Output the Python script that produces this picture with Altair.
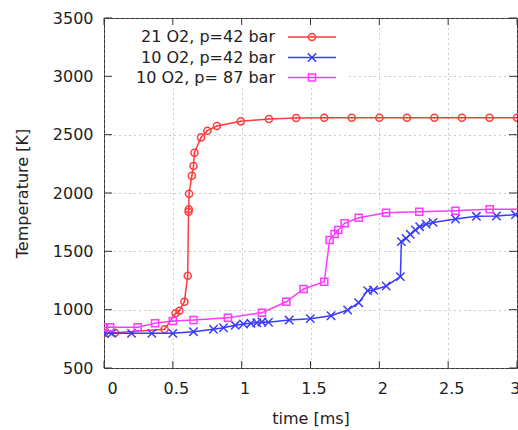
import altair as alt
import pandas as pd

# ---------------- data ----------------
red_t = [0.0, 0.08, 0.44, 0.52, 0.548, 0.584, 0.608, 0.614, 0.616, 0.618, 0.638,
         0.65, 0.657, 0.705, 0.751, 0.82, 0.994, 1.198, 1.396, 1.6, 1.8, 2.0,
         2.2, 2.4, 2.6, 2.8, 3.0]
red_T = [800, 802, 832, 969, 991, 1068, 1291, 1840, 1860, 1994, 2148,
         2231, 2345, 2477, 2534, 2574, 2614, 2635, 2643, 2645, 2645, 2645,
         2645, 2645, 2645, 2645, 2645]

blue_t = [0.0, 0.056, 0.2, 0.347, 0.5, 0.65, 0.795, 0.868, 0.953, 1.013, 1.067,
          1.11, 1.147, 1.195, 1.345, 1.498, 1.649, 1.77, 1.85, 1.915, 1.958,
          2.05, 2.153, 2.16, 2.194, 2.225, 2.262, 2.293, 2.34, 2.39, 2.553,
          2.705, 2.851, 2.989]
blue_T = [797, 797, 797, 797, 797, 811, 832, 845, 866, 877, 883,
          888, 895, 892, 911, 923, 948, 997, 1060, 1163, 1168,
          1203, 1283, 1583, 1611, 1646, 1683, 1711, 1733, 1748, 1777,
          1800, 1803, 1815]

mag_t = [0.0, 0.044, 0.245, 0.371, 0.5, 0.65, 0.9, 1.147, 1.324, 1.45, 1.6,
         1.639, 1.675, 1.702, 1.748, 1.85, 2.049, 2.29, 2.553, 2.802, 3.05]
mag_T = [849, 849, 849, 883, 903, 911, 931, 974, 1068, 1177, 1240,
         1597, 1648, 1683, 1740, 1788, 1831, 1840, 1848, 1860, 1862]

series_names = ["21 O2, p=42 bar", "10 O2, p=42 bar", "10 O2, p= 87 bar"]
series_colors = ["#ff3b3b", "#3b3bff", "#ff3bff"]

x_ticks = [0, 0.5, 1, 1.5, 2, 2.5, 3]
y_ticks = [500, 1000, 1500, 2000, 2500, 3000, 3500]

FONT = "DejaVu Sans"
FS = 16
W, H = 413, 350

xscale = alt.Scale(domain=[0, 3], nice=False, zero=False)
yscale = alt.Scale(domain=[500, 3500], nice=False, zero=False)

X_MARK = "M-1,-1L1,1M-1,1L1,-1"

x_axis = alt.Axis(values=x_ticks, format="~g", title="time [ms]", ticks=False,
                  domain=False, grid=True, gridDash=[1, 4], gridColor="#999999",
                  gridWidth=1, labelPadding=12, labelOffset=3, titlePadding=14)
y_axis = alt.Axis(values=y_ticks, format="d", title="Temperature [K]", ticks=False,
                  domain=False, grid=True, gridDash=[1, 4], gridColor="#999999",
                  gridWidth=1, labelPadding=11, titlePadding=22)

XE = alt.X("time:Q", scale=xscale, axis=x_axis)
YE = alt.Y("T:Q", scale=yscale, axis=y_axis)

# mask behind the key (gnuplot opaque key box)
mask = alt.Chart(pd.DataFrame({"a": [0]})).mark_rect(fill="white").encode(
    x=alt.value(1), x2=alt.value(243), y=alt.value(1), y2=alt.value(70)
)

# inward ticks on all four sides
xt = pd.DataFrame({"time": x_ticks})
yt = pd.DataFrame({"T": y_ticks})
tick_color = "#333333"
ticks = [
    alt.Chart(xt).mark_rule(color=tick_color, strokeWidth=1).encode(
        x=XE, y=alt.value(H - 7), y2=alt.value(H)),
    alt.Chart(xt).mark_rule(color=tick_color, strokeWidth=1).encode(
        x=XE, y=alt.value(0), y2=alt.value(7)),
    alt.Chart(yt).mark_rule(color=tick_color, strokeWidth=1).encode(
        y=YE, x=alt.value(0), x2=alt.value(8)),
    alt.Chart(yt).mark_rule(color=tick_color, strokeWidth=1).encode(
        y=YE, x=alt.value(W - 8), x2=alt.value(W)),
]

def series_layers(t, T, color, shape, size, dot):
    df = pd.DataFrame({"time": t, "T": T})
    layers = [
        alt.Chart(df).mark_line(color=color, strokeWidth=1.5, clip=True).encode(x=XE, y=YE),
        alt.Chart(df).mark_point(shape=shape, filled=False, size=size, color=color,
                                 strokeWidth=1.5, opacity=1, clip=True).encode(x=XE, y=YE),
    ]
    if dot:
        layers.append(alt.Chart(df).mark_point(shape="circle", filled=True, size=2.5,
                                               color=color, opacity=1, clip=True).encode(x=XE, y=YE))
    return layers

data_layers = []
data_layers += series_layers(red_t, red_T, series_colors[0], "circle", 50, True)
data_layers += series_layers(blue_t, blue_T, series_colors[1], X_MARK, 70, False)
data_layers += series_layers(mag_t, mag_T, series_colors[2], "square", 50, True)

# key
key_rows = [19, 39.5, 59.5]
shapes = [("circle", 50, True), (X_MARK, 70, False), ("square", 50, True)]
key_layers = []
for name, color, ry, (shp, sz, dot) in zip(series_names, series_colors, key_rows, shapes):
    ldf = pd.DataFrame({"label": [name]})
    key_layers.append(alt.Chart(ldf).mark_text(align="right", baseline="middle",
                                               font=FONT, fontSize=FS, color="#222222").encode(
        x=alt.value(171), y=alt.value(ry), text="label:N"))
    key_layers.append(alt.Chart(ldf).mark_rule(color=color, strokeWidth=1.5).encode(
        x=alt.value(184), x2=alt.value(232), y=alt.value(ry)))
    key_layers.append(alt.Chart(ldf).mark_point(shape=shp, filled=False, size=sz, color=color,
                                                strokeWidth=1.5, opacity=1).encode(
        x=alt.value(208), y=alt.value(ry)))
    if dot:
        key_layers.append(alt.Chart(ldf).mark_point(shape="circle", filled=True, size=2.5,
                                                    color=color, opacity=1).encode(
            x=alt.value(208), y=alt.value(ry)))

chart = alt.layer(mask, *ticks, *data_layers, *key_layers).properties(
    width=W, height=H,
    autosize=alt.AutoSizeParams(type="none"),
    padding={"left": 104, "top": 18, "right": 1, "bottom": 62},
    background="white",
).configure_view(
    stroke="#333333", strokeWidth=1
).configure_axis(
    labelFont=FONT, titleFont=FONT, labelFontSize=FS, titleFontSize=FS,
    labelColor="#222222", titleColor="#222222", titleFontWeight="normal",
)

chart.save("out.html", embed_options={"renderer": "svg", "actions": False})
